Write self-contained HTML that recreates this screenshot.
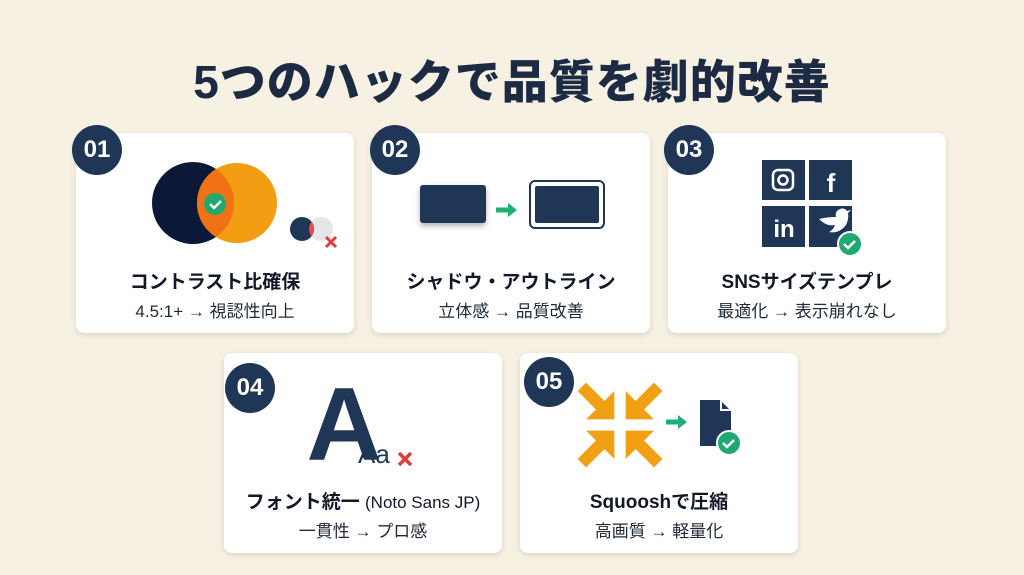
<!DOCTYPE html>
<html><head><meta charset="utf-8"><style>
*{margin:0;padding:0;box-sizing:border-box}
body{width:1024px;height:575px;background:#f6f1e2;font-family:"Liberation Sans","Noto Sans CJK JP",sans-serif;position:relative;overflow:hidden;color:#111827}
h1{position:absolute;left:0;width:1024px;top:46px;text-align:center;font-size:46px;font-weight:900;color:#1c2a44;letter-spacing:1px}
.card{position:absolute;width:278px;height:200px;background:#fff;border-radius:8px;box-shadow:0 2px 6px rgba(0,0,0,.12)}
.badge{position:absolute;width:50px;height:50px;border-radius:50%;background:#1f3657;color:#fff;font-weight:700;font-size:24px;text-align:center;line-height:50px}
.t{position:absolute;left:0;width:100%;text-align:center;font-weight:700;font-size:19px;top:134px;color:#111827}
.s{position:absolute;left:0;width:100%;text-align:center;font-size:17px;top:164px;color:#1f2937}
svg{position:absolute;left:0;top:0}
</style></head><body>
<h1>5つのハックで品質を劇的改善</h1>

<div class="card" style="left:76px;top:133px">
<svg width="278" height="200">
<circle cx="117" cy="70" r="41" fill="#0c1838"/>
<circle cx="161" cy="70" r="40" fill="#f29d12"/>
<clipPath id="c1"><circle cx="117" cy="70" r="41"/></clipPath>
<circle cx="161" cy="70" r="40" fill="#f07214" clip-path="url(#c1)"/>
<circle cx="139" cy="71" r="11" fill="#1fa870"/>
<path d="M134,71 l4,4 l7,-7" stroke="#fff" stroke-width="2.5" fill="none"/>
<circle cx="245" cy="96" r="12" fill="#e6e6e6"/>
<circle cx="226" cy="96" r="12" fill="#1f3657"/>
<clipPath id="c2"><circle cx="226" cy="96" r="12"/></clipPath>
<circle cx="245" cy="96" r="12" fill="#e84a4a" clip-path="url(#c2)"/>
<path d="M250,104 l10,10 M260,104 l-10,10" stroke="#e23b3b" stroke-width="3"/>
</svg>
<div class="badge" style="left:-4px;top:-8px">01</div>
<div class="t">コントラスト比確保</div><div class="s">4.5:1+ → 視認性向上</div></div>

<div class="card" style="left:372px;top:133px">
<svg width="280" height="200">
<rect x="48" y="52" width="66" height="38" rx="3" fill="#1f3657" style="filter:drop-shadow(0 3px 3px rgba(0,0,0,.3))"/>
<path d="M124,77 h14" stroke="#1fae74" stroke-width="5"/><path d="M136,70 l9,7 l-9,7z" fill="#1fae74"/>
<rect x="158" y="48" width="74" height="47" rx="5" fill="#fff" stroke="#1f3657" stroke-width="2"/>
<rect x="163" y="53" width="64" height="37" rx="2" fill="#1f3657"/>
</svg>
<div class="badge" style="left:-2px;top:-8px">02</div>
<div class="t">シャドウ・アウトライン</div><div class="s">立体感 → 品質改善</div></div>

<div class="card" style="left:668px;top:133px">
<svg width="278" height="200">
<rect x="94" y="27" width="43" height="40" fill="#1f3657"/><rect x="141" y="27" width="43" height="40" fill="#1f3657"/>
<rect x="94" y="73" width="43" height="41" fill="#1f3657"/><rect x="141" y="73" width="43" height="41" fill="#1f3657"/>
<rect x="105" y="37" width="20" height="20" rx="5" fill="none" stroke="#fff" stroke-width="2.5"/><circle cx="115" cy="47" r="4.5" fill="none" stroke="#fff" stroke-width="2.5"/>
<text x="163" y="59" text-anchor="middle" fill="#fff" font-size="26" font-weight="700" font-family="Liberation Sans">f</text>
<text x="116" y="104" text-anchor="middle" fill="#fff" font-size="24" font-weight="700" font-family="Liberation Sans">in</text>
<path d="M151,86 q8,8 16,6 q-2,5 -6,7 q10,2 17,-7 q3,-6 2,-12 l3,-3 l-4,1 q-4,-5 -10,0 q-2,3 -1,6 q-9,0 -17,2z" fill="#fff"/>
<circle cx="182" cy="111" r="12" fill="#1fa870" stroke="#fff" stroke-width="2"/>
<path d="M176,111 l4,4 l7,-7" stroke="#fff" stroke-width="2.5" fill="none"/>
</svg>
<div class="badge" style="left:-4px;top:-8px">03</div>
<div class="t">SNSサイズテンプレ</div><div class="s">最適化 → 表示崩れなし</div></div>

<div class="card" style="left:224px;top:353px">
<svg width="278" height="200">
<text x="120" y="107" text-anchor="middle" fill="#1f3657" font-size="104" font-weight="700" font-family="Liberation Sans">A</text>
<text x="134" y="110" fill="#1f3657" font-size="26" font-family="Liberation Sans">Aa</text>
<path d="M175,100 l12,12 M187,100 l-12,12" stroke="#e23b3b" stroke-width="3.5"/>
</svg>
<div class="badge" style="left:1px;top:10px">04</div>
<div class="t">フォント統一 <span style="font-weight:400;font-size:17px">(Noto Sans JP)</span></div><div class="s">一貫性 → プロ感</div></div>

<div class="card" style="left:520px;top:353px">
<svg width="278" height="200">
<g fill="#f0a012" transform="translate(100,72)">
<path transform="rotate(45)" d="M-54,-6 h26 v-14 l20,20 l-20,20 v-14 h-26z"/>
<path transform="rotate(135)" d="M-54,-6 h26 v-14 l20,20 l-20,20 v-14 h-26z"/>
<path transform="rotate(-135)" d="M-54,-6 h26 v-14 l20,20 l-20,20 v-14 h-26z"/>
<path transform="rotate(-45)" d="M-54,-6 h26 v-14 l20,20 l-20,20 v-14 h-26z"/>
</g>
<path d="M146,69 h14" stroke="#1fae74" stroke-width="5"/><path d="M158,62 l9,7 l-9,7z" fill="#1fae74"/>
<path d="M180,47 h20 l11,11 v35 h-31z" fill="#1f3657"/><path d="M200,47 v11 h11z" fill="#fff"/><path d="M202,49 v7 h7z" fill="#1f3657"/>
<circle cx="209" cy="90" r="12" fill="#1fa870" stroke="#fff" stroke-width="2"/>
<path d="M203,90 l4,4 l7,-7" stroke="#fff" stroke-width="2.5" fill="none"/>
</svg>
<div class="badge" style="left:4px;top:4px">05</div>
<div class="t">Squooshで圧縮</div><div class="s">高画質 → 軽量化</div></div>
</body></html>
